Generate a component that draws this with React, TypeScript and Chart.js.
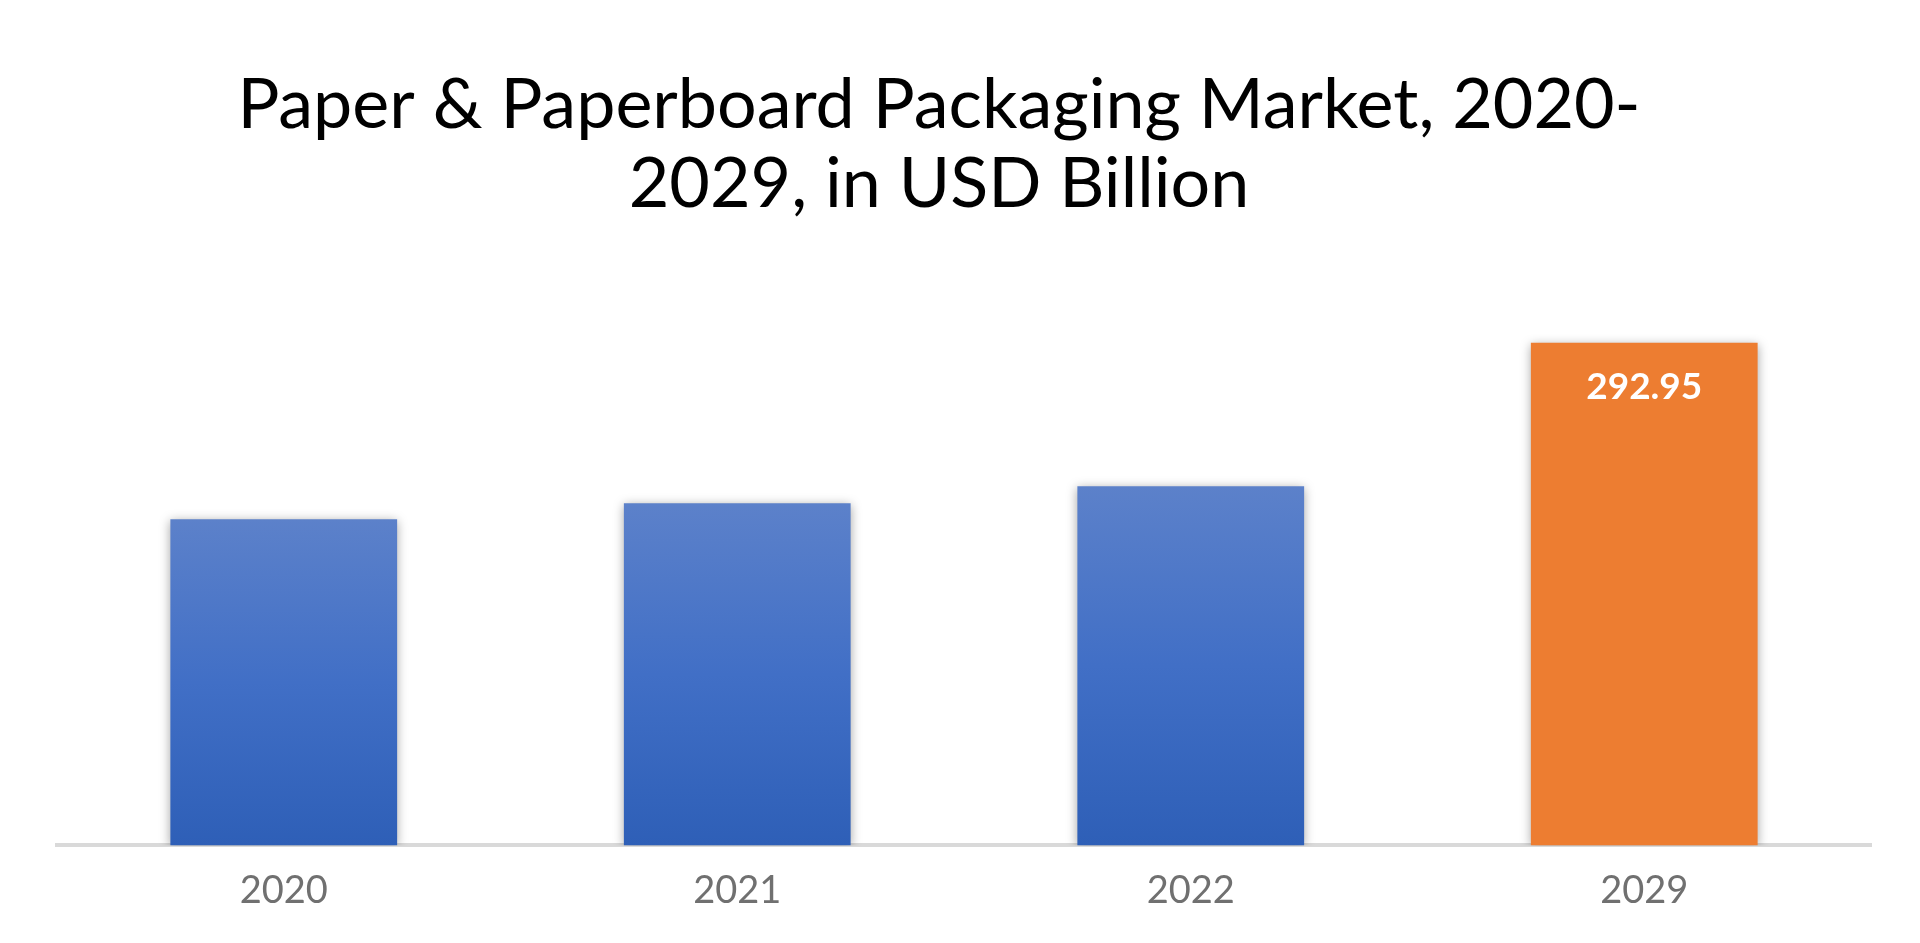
import React, { useRef, useEffect } from 'react';
import { Chart, registerables } from 'chart.js';

Chart.register(...registerables);

const years = ['2020', '2021', '2022', '2029'];
const marketSize = [190.1, 199.5, 209.4, 292.95];
const valueLabels = ['', '', '', '292.95'];
const titleLines = ['Paper & Paperboard Packaging Market, 2020-', '2029, in USD Billion'];

const FONT = 'Lato, "Open Sans", sans-serif';

// soft grey shadow around the bars
const barShadow = {
  id: 'barShadow',
  beforeDatasetsDraw(chart: Chart) {
    const ctx = chart.ctx;
    ctx.save();
    ctx.shadowColor = 'rgba(0, 0, 0, 0.35)';
    ctx.shadowBlur = 10;
    ctx.shadowOffsetX = 0;
    ctx.shadowOffsetY = 2;
  },
  afterDatasetsDraw(chart: Chart) {
    chart.ctx.restore();
  },
};

// white value text inside the top of a bar
const barValueText = {
  id: 'barValueText',
  afterDatasetsDraw(chart: Chart) {
    const ctx = chart.ctx;
    const meta = chart.getDatasetMeta(0);
    ctx.save();
    ctx.fillStyle = '#ffffff';
    ctx.font = `bold 37px ${FONT}`;
    ctx.textAlign = 'center';
    ctx.textBaseline = 'middle';
    meta.data.forEach((bar: any, i: number) => {
      if (!valueLabels[i]) return;
      ctx.fillText(valueLabels[i], bar.x, bar.y + 44);
    });
    ctx.restore();
  },
};

// title sits a little left of the plot centre in the original
const offsetTitle = {
  id: 'offsetTitle',
  afterDraw(chart: Chart) {
    const ctx = chart.ctx;
    ctx.save();
    ctx.fillStyle = '#000000';
    ctx.font = `70px ${FONT}`;
    ctx.textAlign = 'center';
    ctx.textBaseline = 'middle';
    titleLines.forEach((line, i) => {
      ctx.fillText(line, 939, 105.5 + i * 79);
    });
    ctx.restore();
  },
};

const App: React.FC = () => {
  const chartRef = useRef<HTMLCanvasElement>(null);
  const chartInstance = useRef<Chart | null>(null);

  useEffect(() => {
    document.body.style.margin = '0';
    if (!chartRef.current) return;
    if (chartInstance.current) {
      chartInstance.current.destroy();
    }
    const ctx = chartRef.current.getContext('2d');
    if (!ctx) return;

    chartInstance.current = new Chart(ctx, {
      type: 'bar',
      data: {
        labels: years,
        datasets: [
          {
            label: 'Market size',
            data: marketSize,
            barPercentage: 0.5,
            categoryPercentage: 1,
            borderWidth: 0,
            backgroundColor: (context: any) => {
              const i = context.dataIndex;
              if (i === years.length - 1) return '#ed7d31';
              const chart = context.chart;
              const yScale = chart.scales.y;
              if (!chart.chartArea || !yScale || i === undefined) return '#4472c4';
              const top = yScale.getPixelForValue(marketSize[i]);
              const bottom = yScale.getPixelForValue(0);
              const g = chart.ctx.createLinearGradient(0, top, 0, bottom);
              g.addColorStop(0, '#5c81ca');
              g.addColorStop(0.5, '#416fc6');
              g.addColorStop(1, '#2e5fb7');
              return g;
            },
          },
        ],
      },
      options: {
        responsive: false,
        animation: false,
        layout: {
          padding: { top: 245, left: 57, right: 49, bottom: 6 },
        },
        plugins: {
          legend: { display: false },
          tooltip: { enabled: false },
          title: { display: false },
        },
        scales: {
          x: {
            grid: { display: false, drawTicks: false },
            border: { display: true, color: '#d9d9d9', width: 4 },
            ticks: {
              color: '#707070',
              padding: 23,
              font: { family: FONT, size: 38 },
            },
          },
          y: {
            display: false,
            min: 0,
            max: 350,
          },
        },
      },
      plugins: [barShadow, barValueText, offsetTitle],
    });

    return () => {
      if (chartInstance.current) {
        chartInstance.current.destroy();
        chartInstance.current = null;
      }
    };
  }, []);

  return (
    <div style={{ width: 1920, height: 943, background: '#ffffff' }}>
      <canvas ref={chartRef} width={1920} height={943} />
    </div>
  );
};

export default App;
